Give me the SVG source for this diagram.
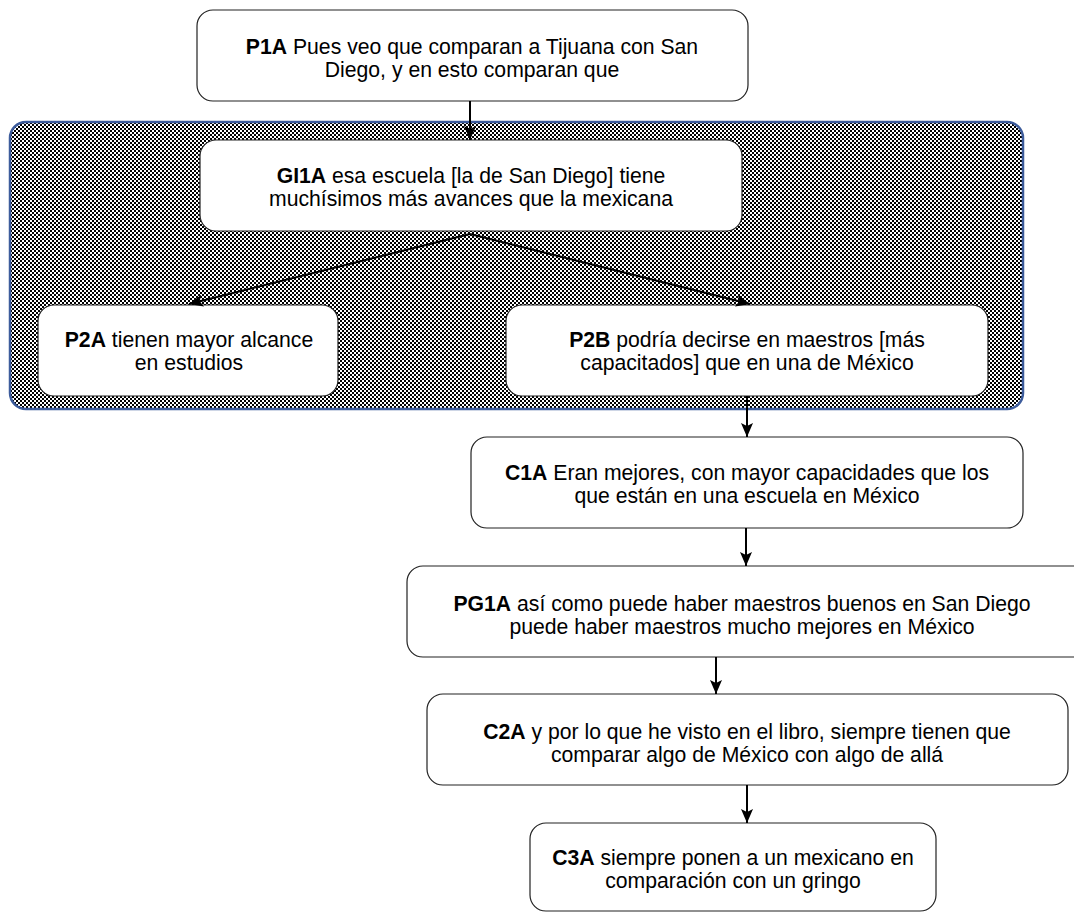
<svg xmlns="http://www.w3.org/2000/svg" width="1074" height="912" viewBox="0 0 1074 912">
<defs>
<pattern id="chk" width="4" height="4" patternUnits="userSpaceOnUse">
<rect width="4" height="4" fill="#fff"/>
<rect width="2" height="2" fill="#000"/>
<rect x="2" y="2" width="2" height="2" fill="#000"/>
</pattern>
<marker id="ah" viewBox="0 0 14 12" refX="14" refY="6" markerWidth="14" markerHeight="12" markerUnits="userSpaceOnUse" orient="auto">
<path d="M0,0 L14,6 L0,12 L3,6 Z" fill="#000"/>
</marker>
</defs>
<style>
.box{fill:#fff;stroke:#222;stroke-width:1.2}
.t{font-family:"Liberation Sans",Arial,sans-serif;font-size:21.2px;fill:#000;text-anchor:middle}
.b{font-weight:bold}
.c{stroke:#000;stroke-width:2;fill:none;marker-end:url(#ah)}
</style>
<rect width="1074" height="912" fill="#fff"/>
<g id="container">
<rect x="10" y="122" width="1013" height="287" rx="16" fill="url(#chk)" stroke="#3d5c9c" stroke-width="2.5"/>
</g>
<g id="P1A">
<rect class="box" x="197" y="10" width="551" height="91" rx="16"/>
<text class="t" x="472" y="54"><tspan class="b">P1A</tspan> Pues veo que comparan a Tijuana con San</text>
<text class="t" x="472" y="77">Diego, y en esto comparan que</text>
</g>
<g id="GI1A">
<rect class="box" x="200" y="140" width="542" height="91" rx="16"/>
<text class="t" x="471" y="183"><tspan class="b">GI1A</tspan> esa escuela [la de San Diego] tiene</text>
<text class="t" x="471" y="206">muchísimos más avances que la mexicana</text>
</g>
<g id="P2A">
<rect class="box" x="38" y="305" width="300" height="91" rx="16"/>
<text class="t" x="189" y="347"><tspan class="b">P2A</tspan> tienen mayor alcance</text>
<text class="t" x="189" y="370">en estudios</text>
</g>
<g id="P2B">
<rect class="box" x="506" y="305" width="482" height="91" rx="16"/>
<text class="t" x="747" y="347"><tspan class="b">P2B</tspan> podría decirse en maestros [más</text>
<text class="t" x="747" y="370">capacitados] que en una de México</text>
</g>
<g id="C1A">
<rect class="box" x="471" y="437" width="552" height="91" rx="16"/>
<text class="t" x="747" y="480"><tspan class="b">C1A</tspan> Eran mejores, con mayor capacidades que los</text>
<text class="t" x="747" y="503">que están en una escuela en México</text>
</g>
<g id="PG1A">
<rect class="box" x="407" y="566" width="690" height="91" rx="16"/>
<text class="t" x="742" y="611"><tspan class="b">PG1A</tspan> así como puede haber maestros buenos en San Diego</text>
<text class="t" x="742" y="634">puede haber maestros mucho mejores en México</text>
</g>
<g id="C2A">
<rect class="box" x="427" y="694" width="641" height="91" rx="16"/>
<text class="t" x="747" y="739"><tspan class="b">C2A</tspan> y por lo que he visto en el libro, siempre tienen que</text>
<text class="t" x="747" y="762">comparar algo de México con algo de allá</text>
</g>
<g id="C3A">
<rect class="box" x="530" y="823" width="406" height="88" rx="16"/>
<text class="t" x="733" y="865"><tspan class="b">C3A</tspan> siempre ponen a un mexicano en</text>
<text class="t" x="733" y="888">comparación con un gringo</text>
</g>
<g id="connectors">
<line class="c" x1="470" y1="101" x2="470" y2="140"/>
<line class="c" x1="470" y1="234" x2="189" y2="304"/>
<line class="c" x1="470" y1="234" x2="750" y2="304"/>
<line class="c" x1="747" y1="396" x2="747" y2="437"/>
<line class="c" x1="746" y1="528" x2="746" y2="566"/>
<line class="c" x1="716" y1="657" x2="716" y2="694"/>
<line class="c" x1="747" y1="785" x2="747" y2="823"/>
</g>
</svg>
